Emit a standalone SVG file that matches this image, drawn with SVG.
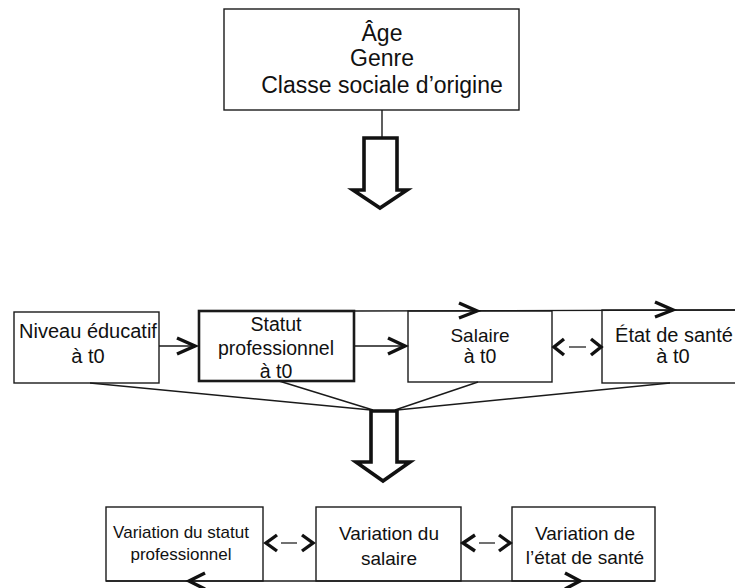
<svg xmlns="http://www.w3.org/2000/svg" width="735" height="588" viewBox="0 0 735 588">
<style>
.box{fill:#fff;stroke:#1a1a1a;stroke-width:1.4}
.boxb{fill:#fff;stroke:#1a1a1a;stroke-width:2.6}
.t{font-family:"Liberation Sans",Arial,sans-serif;fill:#111;text-anchor:middle}
.ln{fill:none;stroke:#1a1a1a;stroke-width:1.4}
.chev{fill:none;stroke:#111;stroke-width:3.4;stroke-linejoin:miter;stroke-linecap:butt}
.dash{fill:none;stroke:#111;stroke-width:1.2}
.hollow{fill:#fff;stroke:#111;stroke-width:3.6;stroke-linejoin:miter}
</style>
<rect width="735" height="588" fill="#fff"/>

<g id="node-origine">
  <rect class="box" x="224" y="9" width="295" height="101"/>
  <text class="t" x="382" y="41" font-size="23">Âge</text>
  <text class="t" x="382" y="66" font-size="23">Genre</text>
  <text class="t" x="382" y="93" font-size="23">Classe sociale d’origine</text>
</g>

<g id="node-niveau">
  <rect class="box" x="14" y="312" width="145" height="71"/>
  <text class="t" x="88" y="338" font-size="20">Niveau éducatif</text>
  <text class="t" x="88" y="363" font-size="20">à t0</text>
</g>

<g id="node-statut">
  <rect class="boxb" x="199" y="311" width="155" height="70"/>
  <text class="t" x="276" y="331" font-size="19.5">Statut</text>
  <text class="t" x="276" y="355" font-size="19.5">professionnel</text>
  <text class="t" x="276" y="378" font-size="19.5">à t0</text>
</g>

<g id="node-salaire">
  <rect class="box" x="408" y="311" width="144" height="71"/>
  <text class="t" x="480" y="342" font-size="19">Salaire</text>
  <text class="t" x="480" y="363" font-size="19.5">à t0</text>
</g>

<g id="node-sante">
  <rect class="box" x="602" y="310" width="140" height="73"/>
  <text class="t" x="674" y="342" font-size="20">État de santé</text>
  <text class="t" x="673" y="363" font-size="20">à t0</text>
</g>

<g id="node-var-statut">
  <rect class="box" x="106" y="507" width="157" height="74"/>
  <text class="t" x="181" y="538" font-size="17">Variation du statut</text>
  <text class="t" x="181" y="560" font-size="17">professionnel</text>
</g>

<g id="node-var-salaire">
  <rect class="box" x="316" y="507" width="145" height="74"/>
  <text class="t" x="389" y="540" font-size="19">Variation du</text>
  <text class="t" x="389" y="565" font-size="19">salaire</text>
</g>

<g id="node-var-sante">
  <rect class="box" x="512" y="507" width="143" height="74"/>
  <text class="t" x="585" y="540" font-size="19">Variation de</text>
  <text class="t" x="585" y="564" font-size="19">l’état de santé</text>
</g>

<g id="connectors">
  <line class="ln" x1="382" y1="110" x2="382" y2="138"/>
  <polygon class="hollow" points="364,138 397,138 397,190 407,190 380,208 353,190 364,190"/>
  <line class="ln" x1="159" y1="346" x2="197" y2="346"/>
  <polyline class="chev" points="177,338 195,346 177,354"/>
  <line class="ln" x1="354" y1="346" x2="405" y2="346"/>
  <polyline class="chev" points="388,338 405,346 388,354"/>
  <line class="ln" x1="354" y1="311" x2="735" y2="310"/>
  <polyline class="chev" points="459,303 477,311 459,318"/>
  <polyline class="chev" points="655,302 673,310 655,317"/>
  <polyline class="chev" points="564,339 554,347 564,355"/>
  <line class="dash" x1="569" y1="347" x2="586" y2="347"/>
  <polyline class="chev" points="591,339 601,347 591,355"/>
  <line class="ln" x1="90" y1="383" x2="371" y2="410"/>
  <line class="ln" x1="279" y1="381" x2="373" y2="410"/>
  <line class="ln" x1="478" y1="382" x2="395" y2="410"/>
  <line class="ln" x1="670" y1="383" x2="397" y2="410"/>
  <polygon class="hollow" points="371,411 397,411 397,462 410,462 383,481 356,462 371,462"/>
  <polyline class="chev" points="277,535 266,543 277,551"/>
  <line class="dash" x1="281" y1="543" x2="297" y2="543"/>
  <polyline class="chev" points="302,535 313,543 302,551"/>
  <polyline class="chev" points="475,535 463,543 475,551"/>
  <line class="dash" x1="479" y1="543" x2="495" y2="543"/>
  <polyline class="chev" points="499,535 510,543 499,551"/>
  <line class="ln" x1="106" y1="581" x2="655" y2="581"/>
  <polyline class="chev" points="205,573 189,581 205,589"/>
  <polyline class="chev" points="565,573 580,581 565,589"/>
</g>
</svg>
